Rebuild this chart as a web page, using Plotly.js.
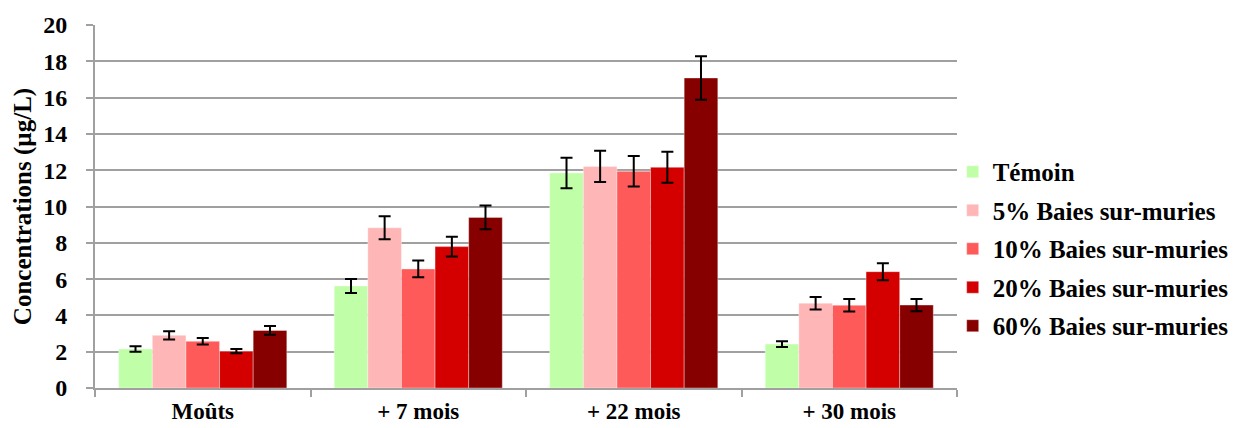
<!DOCTYPE html>
<html>
<head>
<meta charset="utf-8">
<script src="https://cdn.plot.ly/plotly-3.0.1.min.js"></script>
<style>html,body{margin:0;padding:0;background:#fff;}#chart{width:1246px;height:428px;}</style>
</head>
<body>
<div id="chart"></div>
<script>
const categories = ["Moûts", "+ 7 mois", "+ 22 mois", "+ 30 mois"];
const seriesNames = ["Témoin", "5% Baies sur-muries", "10% Baies sur-muries", "20% Baies sur-muries", "60% Baies sur-muries"];
const temoin = [2.15, 5.62, 11.85, 2.42];
const baies5 = [2.9, 8.83, 12.21, 4.67];
const baies10 = [2.57, 6.56, 11.94, 4.56];
const baies20 = [2.03, 7.79, 12.16, 6.41];
const baies60 = [3.17, 9.4, 17.08, 4.57];
const errTemoin = [0.15, 0.39, 0.84, 0.16];
const err5 = [0.23, 0.63, 0.86, 0.35];
const err10 = [0.18, 0.46, 0.84, 0.34];
const err20 = [0.12, 0.55, 0.85, 0.47];
const err60 = [0.24, 0.66, 1.2, 0.34];
const colors = ["#C0FFA8", "#FFB6B6", "#FF5A5A", "#D40000", "#870000"];

const values = [temoin, baies5, baies10, baies20, baies60];
const errors = [errTemoin, err5, err10, err20, err60];

const traces = values.map((v, i) => ({
  type: "bar",
  name: seriesNames[i],
  x: categories,
  y: v,
  marker: {color: colors[i], line: {color: "rgba(255,255,255,0.35)", width: 1}},
  error_y: {type: "data", array: errors[i], visible: true, color: "#000", thickness: 2, width: 6},
  legendgroup: "g" + i
}));

const fam = "Liberation Serif";
const layout = {
  width: 1246, height: 428,
  margin: {l: 95, r: 285, t: 25, b: 40},
  paper_bgcolor: "#fff", plot_bgcolor: "#fff",
  barmode: "group", bargap: 0.22, bargroupgap: 0,
  font: {family: fam, size: 24, color: "#000", weight: 700},
  xaxis: {
    type: "category",
    showline: true, linecolor: "#A0A0A0", linewidth: 2,
    ticks: "outside", tickson: "boundaries", ticklen: 7, tickcolor: "#A0A0A0", tickwidth: 2,
    showgrid: false,
    ticklabelstandoff: 1,
    tickfont: {family: fam, size: 23, color: "#000", weight: 700}
  },
  yaxis: {
    range: [0, 20], dtick: 2, tick0: 0,
    showline: true, linecolor: "#A0A0A0", linewidth: 2,
    ticks: "outside", ticklen: 7, tickcolor: "#A0A0A0", tickwidth: 2,
    showgrid: true, gridcolor: "#A0A0A0", gridwidth: 2,
    zeroline: false,
    ticklabelstandoff: 14,
    tickfont: {family: fam, size: 24, color: "#000", weight: 700},
    title: {text: "Concentrations (µg/L)", font: {family: fam, size: 25, color: "#000", weight: 700}, standoff: 4}
  },
  legend: {
    x: 0.995, xanchor: "left", y: 0.383, yanchor: "middle",
    font: {family: fam, size: 25, color: "#000", weight: 700},
    traceorder: "grouped", tracegroupgap: 3,
    bgcolor: "rgba(0,0,0,0)"
  },
  showlegend: true
};

Plotly.newPlot("chart", traces, layout, {displayModeBar: false, staticPlot: true});
</script>
</body>
</html>
